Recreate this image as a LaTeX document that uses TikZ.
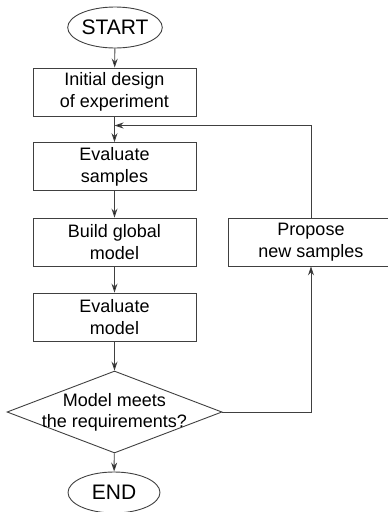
\documentclass[tikz,border=0pt]{standalone}
\usepackage{fontspec}
\setmainfont{Liberation Sans}
\usetikzlibrary{shapes.geometric,arrows.meta}
\definecolor{linec}{HTML}{404040}
\tikzset{
  every picture/.style={line width=0.9pt},
  proc/.style={draw=linec, rectangle, minimum width=163pt, minimum height=48pt, inner sep=0pt, align=center, font=\fontsize{18}{22}\selectfont},
  term/.style={draw=linec, ellipse, minimum width=92pt, minimum height=41pt, inner sep=0pt, font=\fontsize{21}{25}\selectfont},
  decis/.style={draw=linec, diamond, aspect=2.62, minimum width=215pt, minimum height=82pt, inner xsep=-40pt, inner ysep=-4pt, align=center, font=\fontsize{18}{21}\selectfont},
  conn/.style={draw=linec, -{Stealth[length=9pt,width=6pt,inset=3pt,fill=black]}},
}
\begin{document}
\begin{tikzpicture}[x=1pt,y=-1pt]
\useasboundingbox (0,0) rectangle (388,512);
\clip (0,0) rectangle (388,512);
\node[term] (start) at (115,27.5) {START};
\node[proc] (b1) at (114.5,92) {Initial design\\of experiment};
\node[proc] (b2) at (114.5,166.5) {Evaluate\\samples};
\node[proc] (b3) at (114.5,242) {Build global\\model};
\node[proc] (b4) at (114.5,317) {Evaluate\\model};
\node[decis] (d) at (114.5,412) {Model meets\\the requirements?};
\node[term] (end) at (114,492.5) {END};
\node[proc, minimum width=166pt] (prop) at (311,242) {Propose\\new samples};
\coordinate (j) at (114.5,125.5);
\draw[conn] (start) -- (b1);
\draw[conn] (b1) -- (b2);
\draw[conn] (b2) -- (b3);
\draw[conn] (b3) -- (b4);
\draw[conn] (b4) -- (d);
\draw[conn] (d) -- (end);
\draw[conn] (d.east) -| (prop.south);
\draw[conn] (prop.north) |- (j);
\end{tikzpicture}
\end{document}
